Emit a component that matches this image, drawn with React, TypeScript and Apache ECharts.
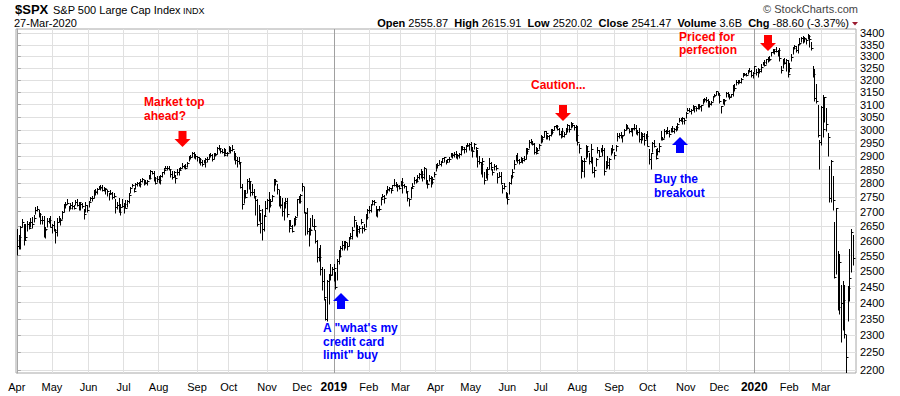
import React, { useEffect, useRef } from "react";
import * as echarts from "echarts";

// ---- axis data ----
const monthLabels = ["Apr","May","Jun","Jul","Aug","Sep","Oct","Nov","Dec","2019","Feb","Mar","Apr","May","Jun","Jul","Aug","Sep","Oct","Nov","Dec","2020","Feb","Mar"];
// index of first trading day of each month (bars from 2-Apr-2018 to 27-Mar-2020)
const monthStarts = [0,21,43,64,85,108,127,150,171,190,211,230,251,272,294,314,336,358,378,401,421,442,463,482];
const yearStarts = [190, 442];
const priceTicks = [2200,2250,2300,2350,2400,2450,2500,2550,2600,2650,2700,2750,2800,2850,2900,2950,3000,3050,3100,3150,3200,3250,3300,3350,3400];

// ---- daily closes ----
const closes = [
  2582,2614,2645,2663,2604,2613,2657,2642,2664,2656,2678,2706,2709,2693,2670,2670,2635,2639,2667,2670,2648,
  2655,2636,2630,2663,2673,2672,2698,2723,2728,2730,2711,2722,2720,2713,2733,2724,2733,2728,2721,2690,2724,2705,
  2735,2747,2749,2772,2770,2779,2782,2787,2776,2782,2780,2774,2763,2767,2750,2755,2717,2723,2700,2716,2718,
  2727,2713,2737,2760,2784,2794,2774,2798,2801,2798,2810,2816,2804,2802,2807,2820,2846,2837,2819,2803,2816,
  2813,2827,2840,2850,2858,2858,2854,2833,2822,2840,2818,2841,2850,2857,2863,2862,2857,2875,2897,2898,2914,2901,2902,
  2897,2889,2878,2872,2877,2888,2889,2904,2905,2889,2904,2908,2931,2930,2919,2916,2906,2914,2914,
  2925,2923,2926,2902,2886,2884,2880,2786,2728,2767,2751,2810,2809,2769,2768,2756,2741,2656,2706,2659,2641,2683,2712,
  2740,2723,2738,2755,2814,2807,2781,2726,2722,2702,2730,2736,2691,2642,2650,2633,2673,2682,2744,2738,2760,
  2790,2700,2696,2633,2638,2637,2651,2651,2600,2546,2546,2507,2467,2417,2351,2468,2489,2486,2507,
  2510,2448,2532,2550,2574,2585,2597,2596,2583,2610,2616,2636,2671,2633,2639,2642,2665,2644,2640,2681,2704,
  2707,2725,2738,2732,2706,2708,2710,2745,2753,2746,2776,2780,2785,2775,2793,2796,2794,2792,2784,
  2804,2793,2790,2771,2749,2743,2783,2792,2811,2808,2822,2833,2833,2824,2855,2801,2798,2818,2805,2815,2834,
  2867,2867,2873,2879,2893,2896,2878,2888,2888,2907,2906,2907,2900,2905,2908,2934,2927,2926,2940,2943,2946,
  2924,2918,2946,2932,2884,2879,2871,2881,2812,2834,2851,2876,2860,2840,2864,2856,2822,2826,2802,2783,2789,2752,
  2744,2803,2826,2843,2873,2887,2886,2880,2892,2887,2890,2918,2926,2954,2950,2945,2917,2914,2925,2942,
  2964,2973,2996,2990,2976,2980,2993,3000,3014,3014,3004,2984,2995,2977,2985,3005,3020,3004,3026,3021,3013,2980,
  2954,2932,2845,2882,2884,2938,2919,2883,2926,2841,2848,2889,2924,2901,2924,2923,2847,2878,2869,2888,2925,2926,
  2906,2938,2976,2979,2978,2979,3001,3010,3007,2998,3006,3007,3007,2992,2992,2967,2985,2978,2962,2977,
  2940,2888,2911,2952,2939,2893,2919,2938,2970,2966,2996,2990,2998,2986,3007,2996,3005,3010,3023,3039,3037,3047,3038,
  3067,3078,3075,3077,3085,3093,3087,3092,3094,3097,3120,3122,3120,3108,3104,3110,3134,3141,3154,3141,
  3114,3093,3113,3117,3146,3136,3133,3142,3169,3169,3191,3193,3191,3205,3221,3224,3223,3240,3240,3221,3231,
  3258,3235,3246,3237,3253,3275,3265,3288,3283,3289,3317,3330,3321,3322,3326,3295,3244,3276,3273,3284,3226,
  3249,3298,3335,3346,3328,3352,3358,3379,3374,3380,3370,3386,3373,3338,3226,3128,3116,2979,2954,
  3090,3003,3130,3024,2972,2747,2882,2741,2481,2711,2386,2529,2398,2409,2305,2237,2447,2476,2630,2541,
];

// ---- daily highs ----
const highs = [
  2638,2619,2649,2672,2656,2654,2665,2661,2675,2680,2686,2713,2717,2703,2692,2683,2684,2645,2676,2677,2683,
  2655,2665,2637,2674,2684,2677,2701,2726,2733,2742,2719,2727,2732,2720,2740,2741,2733,2731,2728,2707,2732,2722,
  2736,2750,2752,2773,2779,2780,2790,2791,2792,2786,2781,2776,2763,2774,2769,2765,2743,2732,2746,2725,2743,
  2727,2737,2737,2764,2785,2796,2780,2799,2804,2803,2814,2817,2810,2810,2809,2829,2848,2845,2843,2821,2825,
  2826,2830,2841,2854,2863,2863,2862,2848,2843,2843,2828,2851,2855,2859,2873,2867,2869,2876,2899,2904,2916,2913,2907,
  2900,2894,2893,2884,2886,2893,2894,2906,2911,2908,2912,2912,2934,2941,2927,2924,2931,2927,2916,
  2937,2932,2940,2919,2910,2894,2894,2874,2795,2775,2776,2813,2816,2807,2797,2778,2753,2743,2722,2692,2707,2685,2736,
  2741,2767,2744,2757,2815,2814,2797,2775,2754,2746,2732,2747,2746,2670,2670,2653,2675,2683,2744,2754,2760,
  2800,2786,2697,2709,2640,2674,2686,2671,2634,2601,2573,2585,2510,2504,2410,2468,2489,2520,2510,
  2520,2494,2538,2566,2580,2596,2598,2596,2589,2612,2625,2646,2681,2662,2653,2648,2673,2647,2654,2690,2708,
  2716,2725,2738,2739,2719,2708,2719,2749,2761,2758,2776,2789,2786,2782,2793,2814,2803,2796,2791,
  2808,2816,2796,2790,2767,2744,2784,2799,2821,2815,2830,2836,2852,2843,2860,2852,2809,2829,2825,2820,2838,
  2869,2872,2886,2881,2893,2896,2886,2889,2894,2910,2909,2916,2919,2908,2909,2937,2937,2933,2940,2949,2950,
  2954,2932,2947,2933,2920,2898,2875,2891,2840,2852,2858,2892,2876,2852,2868,2865,2837,2841,2841,2792,2798,2769,
  2763,2804,2827,2852,2885,2904,2910,2888,2895,2893,2898,2931,2930,2958,2964,2955,2947,2932,2929,2943,
  2978,2974,2996,2994,2980,2980,3003,3003,3014,3017,3016,3006,2995,3007,2990,3006,3020,3017,3028,3025,3018,3017,
  3014,2946,2898,2885,2892,2939,2935,2911,2943,2897,2857,2893,2932,2923,2928,2940,2928,2880,2899,2890,2930,2941,
  2914,2939,2985,2985,2989,2980,3001,3021,3017,3003,3006,3008,3022,3017,2999,3007,2990,2987,2987,2984,
  2993,2925,2911,2953,2959,2926,2929,2949,2993,2973,3004,2998,3009,3000,3008,3014,3005,3015,3027,3044,3047,3050,3047,
  3067,3084,3083,3079,3097,3094,3088,3102,3099,3098,3121,3124,3128,3119,3111,3112,3134,3142,3154,3151,
  3144,3094,3120,3120,3150,3148,3143,3143,3176,3183,3198,3198,3199,3206,3226,3227,3226,3240,3248,3241,3232,
  3258,3246,3247,3245,3267,3276,3283,3288,3295,3299,3317,3330,3330,3338,3327,3334,3259,3285,3293,3285,3282,
  3268,3306,3338,3348,3342,3352,3376,3382,3385,3381,3375,3393,3389,3361,3259,3246,3182,3097,2960,
  3091,3137,3130,3083,2985,2863,2883,2825,2661,2711,2563,2553,2453,2467,2454,2300,2449,2572,2638,2616,
];

// ---- daily lows ----
const lows = [
  2554,2575,2573,2649,2587,2605,2635,2640,2648,2645,2665,2692,2703,2682,2660,2660,2615,2612,2647,2661,2648,
  2626,2633,2594,2616,2664,2655,2675,2700,2714,2728,2702,2712,2711,2709,2725,2721,2707,2707,2714,2677,2700,2700,
  2719,2739,2740,2750,2761,2763,2780,2778,2775,2774,2762,2755,2741,2762,2745,2751,2698,2712,2699,2691,2718,
  2698,2713,2716,2730,2768,2789,2770,2782,2792,2794,2789,2806,2796,2800,2795,2816,2817,2835,2809,2799,2806,
  2804,2799,2824,2835,2855,2851,2852,2826,2819,2826,2802,2831,2833,2850,2860,2857,2854,2862,2884,2893,2898,2895,2892,
  2885,2876,2868,2864,2875,2863,2879,2893,2898,2886,2891,2903,2912,2927,2913,2913,2903,2909,2903,
  2917,2916,2921,2887,2874,2863,2874,2784,2710,2730,2750,2767,2782,2755,2760,2749,2691,2651,2669,2628,2604,2635,2686,
  2709,2700,2717,2738,2774,2795,2765,2722,2714,2685,2671,2714,2682,2631,2650,2632,2650,2655,2685,2730,2730,
  2774,2698,2621,2623,2583,2621,2650,2637,2593,2531,2534,2489,2441,2409,2347,2345,2398,2473,2488,
  2468,2444,2474,2525,2548,2569,2570,2578,2570,2585,2609,2606,2647,2617,2613,2627,2658,2627,2634,2648,2677,
  2697,2701,2724,2726,2687,2682,2705,2724,2748,2733,2760,2768,2774,2767,2781,2794,2789,2776,2782,
  2794,2767,2785,2768,2740,2722,2749,2786,2799,2804,2808,2818,2823,2812,2817,2800,2785,2810,2787,2799,2825,
  2848,2858,2872,2867,2882,2880,2874,2880,2881,2899,2896,2900,2894,2892,2897,2908,2926,2913,2917,2939,2927,
  2923,2900,2930,2898,2863,2873,2836,2826,2801,2820,2815,2856,2852,2831,2852,2852,2805,2824,2800,2766,2780,2750,
  2729,2762,2801,2822,2853,2883,2878,2874,2882,2876,2886,2893,2911,2934,2947,2944,2911,2912,2917,2929,
  2953,2956,2976,2968,2967,2962,2980,2988,3001,3009,3003,2984,2970,2976,2977,2988,2996,2994,3010,3014,3001,2958,
  2945,2915,2823,2848,2826,2892,2901,2873,2877,2840,2825,2864,2913,2899,2917,2904,2834,2856,2860,2853,2905,2914,
  2891,2921,2961,2973,2970,2957,2982,3003,3005,2990,2993,2978,3003,2985,2982,2957,2953,2964,2946,2967,
  2939,2874,2855,2918,2936,2892,2907,2917,2963,2962,2973,2986,2992,2977,2993,2995,2992,2997,3001,3033,3036,3026,3024,
  3050,3078,3072,3065,3080,3073,3075,3084,3083,3078,3104,3112,3114,3091,3094,3099,3118,3132,3143,3140,
  3110,3070,3103,3102,3134,3135,3126,3133,3138,3159,3184,3188,3190,3192,3216,3222,3221,3227,3235,3216,3213,
  3235,3223,3215,3233,3236,3264,3260,3268,3278,3281,3303,3318,3311,3320,3302,3281,3234,3254,3271,3242,3214,
  3236,3281,3313,3333,3323,3318,3353,3366,3360,3366,3355,3379,3341,3328,3215,3118,3109,2977,2856,
  2946,2977,3035,2999,2902,2735,2734,2707,2479,2493,2380,2367,2281,2319,2295,2192,2345,2407,2500,2520,
];

const FONT = '"Liberation Sans", Arial, sans-serif';

function textEl(x: number, baseline: number, text: string, size: number, fill: string, bold = false, align = "left") {
  return {
    type: "text",
    z: 100,
    style: {
      x,
      y: baseline - 0.35 * size,
      text,
      fill,
      font: `${bold ? "bold " : ""}${size}px ${FONT}`,
      align,
      verticalAlign: "middle",
    },
  };
}

function downArrow(cx: number, top: number, fill: string) {
  return {
    type: "polygon",
    z: 100,
    shape: {
      points: [
        [cx - 4, top], [cx + 4, top], [cx + 4, top + 8], [cx + 8, top + 8],
        [cx, top + 16], [cx - 8, top + 8], [cx - 4, top + 8],
      ],
    },
    style: { fill },
  };
}

function upArrow(cx: number, top: number, fill: string) {
  return {
    type: "polygon",
    z: 100,
    shape: {
      points: [
        [cx, top], [cx + 8, top + 8], [cx + 4, top + 8], [cx + 4, top + 16],
        [cx - 4, top + 16], [cx - 4, top + 8], [cx - 8, top + 8],
      ],
    },
    style: { fill },
  };
}

export default function App() {
  const ref = useRef<HTMLDivElement>(null);

  useEffect(() => {
    const chart = echarts.init(ref.current!, null, { renderer: "svg" });
    const n = Math.min(closes.length, highs.length, lows.length);
    const data = [];
    for (let i = 0; i < n; i++) {
      data.push([i, Math.log(lows[i]), Math.log(highs[i]), Math.log(closes[i])]);
    }
    const logTicks = priceTicks.map((v) => Math.log(v));
    const RED = "#ff0000";
    const BLUE = "#0000ff";

    const option = {
      animation: false,
      grid: {
        left: 16,
        right: 44,
        top: 29,
        bottom: 23,
        show: true,
        borderColor: "#a8a8a8",
        borderWidth: 1,
      },
      xAxis: {
        type: "value",
        min: -0.5,
        max: 503,
        axisLine: { show: false },
        axisTick: { show: false, customValues: monthStarts },
        axisLabel: {
          customValues: monthStarts,
          margin: 8,
          color: "#000",
          fontSize: 11,
          fontFamily: FONT,
          formatter: (v: number) => {
            const k = monthStarts.indexOf(Math.round(v));
            const t = k >= 0 ? monthLabels[k] : "";
            return yearStarts.includes(Math.round(v)) ? `{y|${t}}` : t;
          },
          rich: { y: { fontWeight: "bold", fontSize: 12, color: "#000", fontFamily: FONT } },
        },
        splitLine: {
          show: true,
          lineStyle: {
            color: monthStarts.map((v) => (yearStarts.includes(v) ? "#a0a0a0" : "#e0e0e0")),
            width: 1,
          },
        },
      },
      yAxis: {
        type: "value",
        position: "right",
        min: Math.log(2191),
        max: Math.log(3419),
        axisLine: { show: true, lineStyle: { color: "#a8a8a8" } },
        axisTick: { show: true, length: 4, customValues: logTicks, lineStyle: { color: "#a8a8a8" } },
        axisLabel: {
          customValues: logTicks,
          margin: 4,
          color: "#000",
          fontSize: 11,
          fontFamily: FONT,
          formatter: (v: number) => String(Math.round(Math.exp(v))),
        },
        splitLine: { show: true, lineStyle: { color: "#e0e0e0", width: 1 } },
      },
      series: [
        {
          type: "custom",
          clip: true,
          silent: true,
          encode: { x: 0, y: [1, 2, 3] },
          data,
          renderItem: (params: any, api: any) => {
            const i = api.value(0);
            const pl = api.coord([i, api.value(1)]);
            const ph = api.coord([i, api.value(2)]);
            const pc = api.coord([i, api.value(3)]);
            const x = Math.round(pl[0]) + 0.5;
            const yc = Math.round(pc[1]) + 0.5;
            return {
              type: "group",
              children: [
                {
                  type: "line",
                  shape: { x1: x, y1: Math.floor(ph[1]), x2: x, y2: Math.ceil(pl[1]) + 0.5 },
                  style: { stroke: "#000", lineWidth: 1 },
                },
                {
                  type: "line",
                  shape: { x1: x, y1: yc, x2: x + 2, y2: yc },
                  style: { stroke: "#000", lineWidth: 1 },
                },
              ],
            };
          },
        },
      ],
      graphic: {
        elements: [
          textEl(15, 14, "$SPX", 13, "#000", true),
          textEl(53, 14, "S&P 500 Large Cap Index", 11, "#000"),
          textEl(183, 14, "INDX", 9, "#000"),
          textEl(14, 27, "27-Mar-2020", 11, "#000"),
          textEl(858, 13, "© StockCharts.com", 11, "#444", false, "right"),
          {
            type: "text",
            z: 100,
            style: {
              x: 849,
              y: 27 - 0.35 * 11,
              align: "right",
              verticalAlign: "middle",
              font: `11px ${FONT}`,
              fill: "#000",
              text:
                "{b|Open} 2555.87  {b|High} 2615.91  {b|Low} 2520.02  {b|Close} 2541.47  {b|Volume} 3.6B  {b|Chg} -88.60 (-3.37%)",
              rich: { b: { fontWeight: "bold", fontSize: 11, fontFamily: FONT, fill: "#000" } },
            },
          },
          {
            type: "polygon",
            z: 100,
            shape: { points: [[852, 22], [858, 22], [855, 25.5]] },
            style: { fill: "#9b1b30" },
          },
          textEl(144, 106, "Market top", 12, RED, true),
          textEl(144, 120, "ahead?", 12, RED, true),
          downArrow(182.5, 131, RED),
          textEl(531, 89, "Caution...", 12, RED, true),
          downArrow(563, 105, RED),
          textEl(679, 41, "Priced for", 12, RED, true),
          textEl(679, 54, "perfection", 12, RED, true),
          downArrow(768, 35, RED),
          textEl(654, 183, "Buy the", 12, BLUE, true),
          textEl(654, 197, "breakout", 12, BLUE, true),
          upArrow(680, 137, BLUE),
          textEl(323, 332, 'A "what\'s my', 12, BLUE, true),
          textEl(323, 346, "credit card", 12, BLUE, true),
          textEl(323, 359, 'limit" buy', 12, BLUE, true),
          upArrow(341, 293, BLUE),
        ],
      },
    };

    chart.setOption(option as any);
    return () => chart.dispose();
  }, []);

  return (
    <div
      ref={ref}
      style={{ position: "fixed", left: 0, top: 0, width: 900, height: 396, background: "#fff" }}
    />
  );
}
